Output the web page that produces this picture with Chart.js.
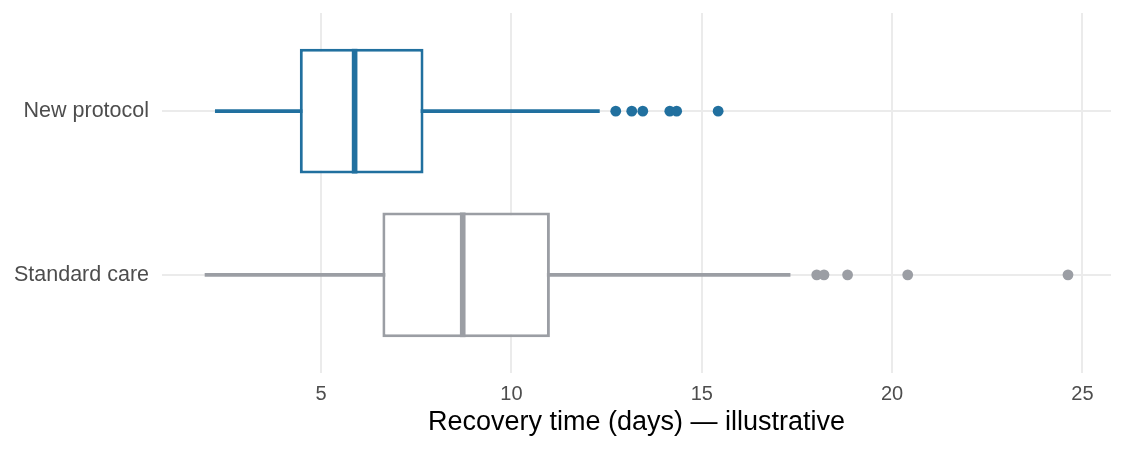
<!DOCTYPE html>
<html>
<head>
<meta charset="utf-8">
<script src="https://cdn.jsdelivr.net/npm/chart.js@4"></script>
<style>
  html, body { margin: 0; padding: 0; background: #fff; }
</style>
</head>
<body>
<canvas id="boxChart" width="1125" height="450"></canvas>
<script>
// box plot stats
var groups = ['New protocol', 'Standard care'];
var whiskerLow = [2.22, 1.95];
var q1 = [4.44, 6.61];
var median = [5.88, 8.72];
var q3 = [7.69, 11.01];
var whiskerHigh = [12.31, 17.32];
var outliersNew = [12.74, 13.16, 13.45, 14.16, 14.34, 15.43];
var outliersStandard = [18.02, 18.21, 18.83, 20.41, 24.62];
var xTicks = [5, 10, 15, 20, 25];

var colors = ['#21709f', '#9b9ea4'];
var medHalf = 0.074;
var fontFamily = '"Liberation Sans", Arial, sans-serif';
var gridColor = '#ebebeb';

function ranges(lo, hi) {
  return groups.map(function (g, i) { return { x: [lo[i], hi[i]], y: i }; });
}

function points(vals, i) {
  return vals.map(function (v) { return { x: v, y: i }; });
}

var ctx = document.getElementById('boxChart');

var chart = new Chart(ctx, {
  type: 'bar',
  data: {
    datasets: [
      {
        label: 'whiskers',
        data: ranges(whiskerLow, whiskerHigh),
        backgroundColor: colors,
        barThickness: 3,
        grouped: false,
        order: 3
      },
      {
        label: 'box',
        data: ranges(q1, q3),
        backgroundColor: '#ffffff',
        borderColor: colors,
        borderWidth: 3,
        borderSkipped: false,
        categoryPercentage: 1,
        barPercentage: 0.762,
        grouped: false,
        order: 2
      },
      {
        label: 'median',
        data: ranges(median.map(function (m) { return m - medHalf; }),
                     median.map(function (m) { return m + medHalf; })),
        backgroundColor: colors,
        categoryPercentage: 1,
        barPercentage: 0.762,
        grouped: false,
        order: 1
      },
      {
        type: 'scatter',
        label: 'outliers new',
        data: points(outliersNew, 0),
        backgroundColor: colors[0],
        pointRadius: 5.4,
        borderWidth: 0,
        order: 0
      },
      {
        type: 'scatter',
        label: 'outliers standard',
        data: points(outliersStandard, 1),
        backgroundColor: colors[1],
        pointRadius: 5.4,
        borderWidth: 0,
        order: 0
      }
    ]
  },
  options: {
    indexAxis: 'y',
    responsive: false,
    animation: false,
    layout: { padding: { top: 13, right: 14, left: 0, bottom: 0 } },
    plugins: {
      legend: { display: false },
      tooltip: { enabled: false }
    },
    scales: {
      x: {
        type: 'linear',
        position: 'bottom',
        min: 0.82,
        max: 25.75,
        afterBuildTicks: function (s) {
          s.ticks = xTicks.map(function (v) { return { value: v }; });
        },
        afterFit: function (s) { s.height = 77; },
        grid: { color: gridColor, lineWidth: 2, drawTicks: false },
        border: { display: false },
        ticks: {
          color: '#4d4d4d',
          padding: 9,
          font: { family: fontFamily, size: 20 }
        },
        title: {
          display: true,
          text: 'Recovery time (days) — illustrative',
          color: '#000000',
          font: { family: fontFamily, size: 27 },
          padding: { top: 0, bottom: 11 }
        }
      },
      y: {
        type: 'linear',
        min: -0.6,
        max: 1.6,
        reverse: true,
        offset: false,
        afterBuildTicks: function (s) {
          s.ticks = groups.map(function (g, i) { return { value: i }; });
        },
        afterFit: function (s) {
          s.width = 162;
          s.paddingTop = 0;
          s.paddingBottom = 0;
        },
        grid: { color: gridColor, lineWidth: 2, drawTicks: false, offset: false },
        border: { display: false },
        ticks: {
          color: '#4d4d4d',
          padding: 13,
          autoSkip: false,
          font: { family: fontFamily, size: 21.5 },
          callback: function (v) { return groups[v]; }
        }
      }
    }
  }
});
</script>
</body>
</html>
